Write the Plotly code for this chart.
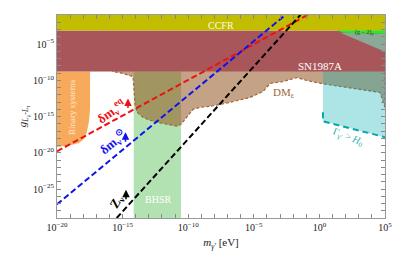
import numpy as np
import plotly.graph_objects as go

# ---- data (log10 values) ----
x_min, x_max = -20, 5
y_min, y_max = -29, -1

ccfr_x = [-20, 5, 5, -20]
ccfr_y = [-1, -1, -3.15, -3.15]

sn_x = [-20, 5, 5, -20]
sn_y = [-3.15, -3.15, -8.81, -8.81]

g2_x = [1.32, 5, 5, 1.9]
g2_y = [-3.15, -3.15, -3.6, -3.45]

gray_x = [1.6, 5, 5]
gray_y = [-3.45, -3.6, -6.07]

binary_x = [-20, -17.48, -17.48, -17.56, -17.71, -17.94, -18.32, -19.01, -20]
binary_y = [-8.81, -8.81, -14.01, -15.66, -17.03, -18.12, -18.67, -18.95, -19.22]

bhsr_x = [-14.15, -10.55, -10.55, -14.15]
bhsr_y = [-8.81, -8.81, -29, -29]

dm_x = [-15.9, -15.73, -15.2, -14.21, -14.13, -14.05, -13.9, -13.45, -12.91, -12.38,
        -11.62, -10.85, -10.55, -10.09, -9.63, -9.1, -8.34, -6.81, -5.29, -4.3,
        -3.77, -2.77, -1.71, -0.95, 0.27, 4.62, 5.0, 5.0]
dm_y = [-8.5, -8.81, -8.95, -9.49, -11.27, -13.33, -14.42, -15.11, -15.52, -15.79,
        -16.07, -16.34, -16.07, -14.97, -14.01, -13.74, -13.6, -13.05, -12.37, -11.55,
        -10.45, -10.18, -9.63, -10.04, -10.5, -11.68, -13.74, -8.5]

cyan_x = [0.27, 5, 5, 0.27]
cyan_y = [-8.5, -8.5, -17.85, -15.66]
cyan_edge_x = [0.27, 0.27, 5]
cyan_edge_y = [-14.4, -15.66, -17.85]

red_x = [-20, -0.9]
red_y = [-19.8, -1.0]
blue_x = [-20, -2.6]
blue_y = [-27.1, -1.0]
black_x = [-15.45, -1.45]
black_y = [-29.0, -1.0]

x_major = [-20, -15, -10, -5, 0, 5]
y_major = [-25, -20, -15, -10, -5]

SERIF = "Liberation Serif, Times New Roman, serif"


def p(v):
    return [10.0 ** a for a in v]


def lab(k):
    return "10<sup>" + (str(k).replace("-", "−")) + "</sup>"


fig = go.Figure()


def poly(xs, ys, fill, line=None):
    fig.add_trace(go.Scatter(
        x=p(xs), y=p(ys), mode="lines", fill="toself", fillcolor=fill,
        line=line or dict(width=0, color=fill), hoverinfo="skip", showlegend=False))


poly(bhsr_x, bhsr_y, "#b2e2b2")
poly(dm_x, dm_y, "rgba(148,86,33,0.55)", dict(width=1.2, color="#a0643c", dash="3px,2px"))
poly(cyan_x, cyan_y, "rgba(0,170,175,0.32)")
poly(binary_x, binary_y, "#f8aa5c")
poly(sn_x, sn_y, "#a8565a")
poly(ccfr_x, ccfr_y, "#c3bd00")
poly(gray_x, gray_y, "#8aa997")
poly(g2_x, g2_y, "#22ee22")

fig.add_trace(go.Scatter(x=p(cyan_edge_x), y=p(cyan_edge_y), mode="lines",
                         line=dict(color="#00a8a8", width=2, dash="6px,4px"),
                         hoverinfo="skip", showlegend=False))

for xs, ys, c in [(red_x, red_y, "#ee1111"), (blue_x, blue_y, "#1111ee"),
                  (black_x, black_y, "#000000")]:
    fig.add_trace(go.Scatter(x=p(xs), y=p(ys), mode="lines",
                             line=dict(color=c, width=2, dash="6px,3px"),
                             hoverinfo="skip", showlegend=False))

ann = []


def text(x, y, t, color, size, angle=0, bold=False):
    ann.append(dict(x=x, y=y, xref="x", yref="y", text=("<b>" + t + "</b>") if bold else t,
                    showarrow=False, textangle=angle,
                    font=dict(family=SERIF, size=size, color=color)))


def arrow(x, y, color):
    ann.append(dict(x=x, y=y, xref="x", yref="y", text="", showarrow=True,
                    ax=0, ay=11, arrowhead=2, arrowsize=1, arrowwidth=1.5,
                    arrowcolor=color))


text(-7.5, -2.45, "CCFR", "#fffbe0", 10)
text(0.05, -8.05, "SN1987A", "#ffffff", 11)
text(-2.7, -11.7, "DM<sub>ε</sub>", "#a0643c", 11)
text(3.4, -3.45, "(g − 2)<sub>μ</sub>", "#333333", 6)
text(-18.86, -13.7, "Binary systems", "#ffe8d0", 9, angle=-90)
text(-12.3, -26.5, "BHSR", "#ffffff", 10)
text(2.2, -17.9, "Γ<sub>γ′</sub> > <i>H</i><sub>0</sub>", "#20b0b0", 10, angle=22)
text(-15.81, -14.3, "δm<sub>ν</sub><sup>eq</sup>", "#ee1111", 13, angle=-35, bold=True)
text(-15.73, -18.5, "δm<sub>ν</sub><sup>⊙</sup>", "#1111ee", 13, angle=-40, bold=True)
text(-15.43, -26.7, "Z<sub>ν</sub>", "#000000", 13, angle=-60, bold=True)
arrow(-14.59, -12.5, "#ee1111")
arrow(-14.78, -17.16, "#1111ee")
arrow(-14.74, -25.1, "#000000")

axcommon = dict(type="log", showgrid=False, zeroline=False, ticks="inside",
                ticklen=4, tickcolor="#888888", linecolor="#999999", linewidth=1,
                mirror="allticks", showline=True, automargin=False,
                tickfont=dict(family=SERIF, size=10, color="#222222"))

xt = list(range(x_min, x_max + 1))
yt = list(range(y_min, y_max + 1))

fig.update_layout(
    width=395, height=265,
    margin=dict(l=57, r=10, t=15, b=47, pad=0),
    paper_bgcolor="white", plot_bgcolor="white",
    showlegend=False,
    annotations=ann,
    xaxis=dict(axcommon, range=[x_min, x_max],
               tickvals=p(xt), ticktext=[lab(k) if k in x_major else "" for k in xt],
               title=dict(text="<i>m</i><sub><i>γ′</i></sub> [eV]", standoff=6,
                          font=dict(family=SERIF, size=11, color="#222222"))),
    yaxis=dict(axcommon, range=[y_min, y_max],
               tickvals=p(yt), ticktext=[lab(k) if k in y_major else "" for k in yt],
               title=dict(text="<i>g</i><sub><i>L</i><sub>μ</sub>-<i>L</i><sub>τ</sub></sub>",
                          standoff=4,
                          font=dict(family=SERIF, size=11, color="#222222"))),
)

fig.write_html("out.html", config={"displayModeBar": False},
               post_script="document.body.style.margin='0px';")
